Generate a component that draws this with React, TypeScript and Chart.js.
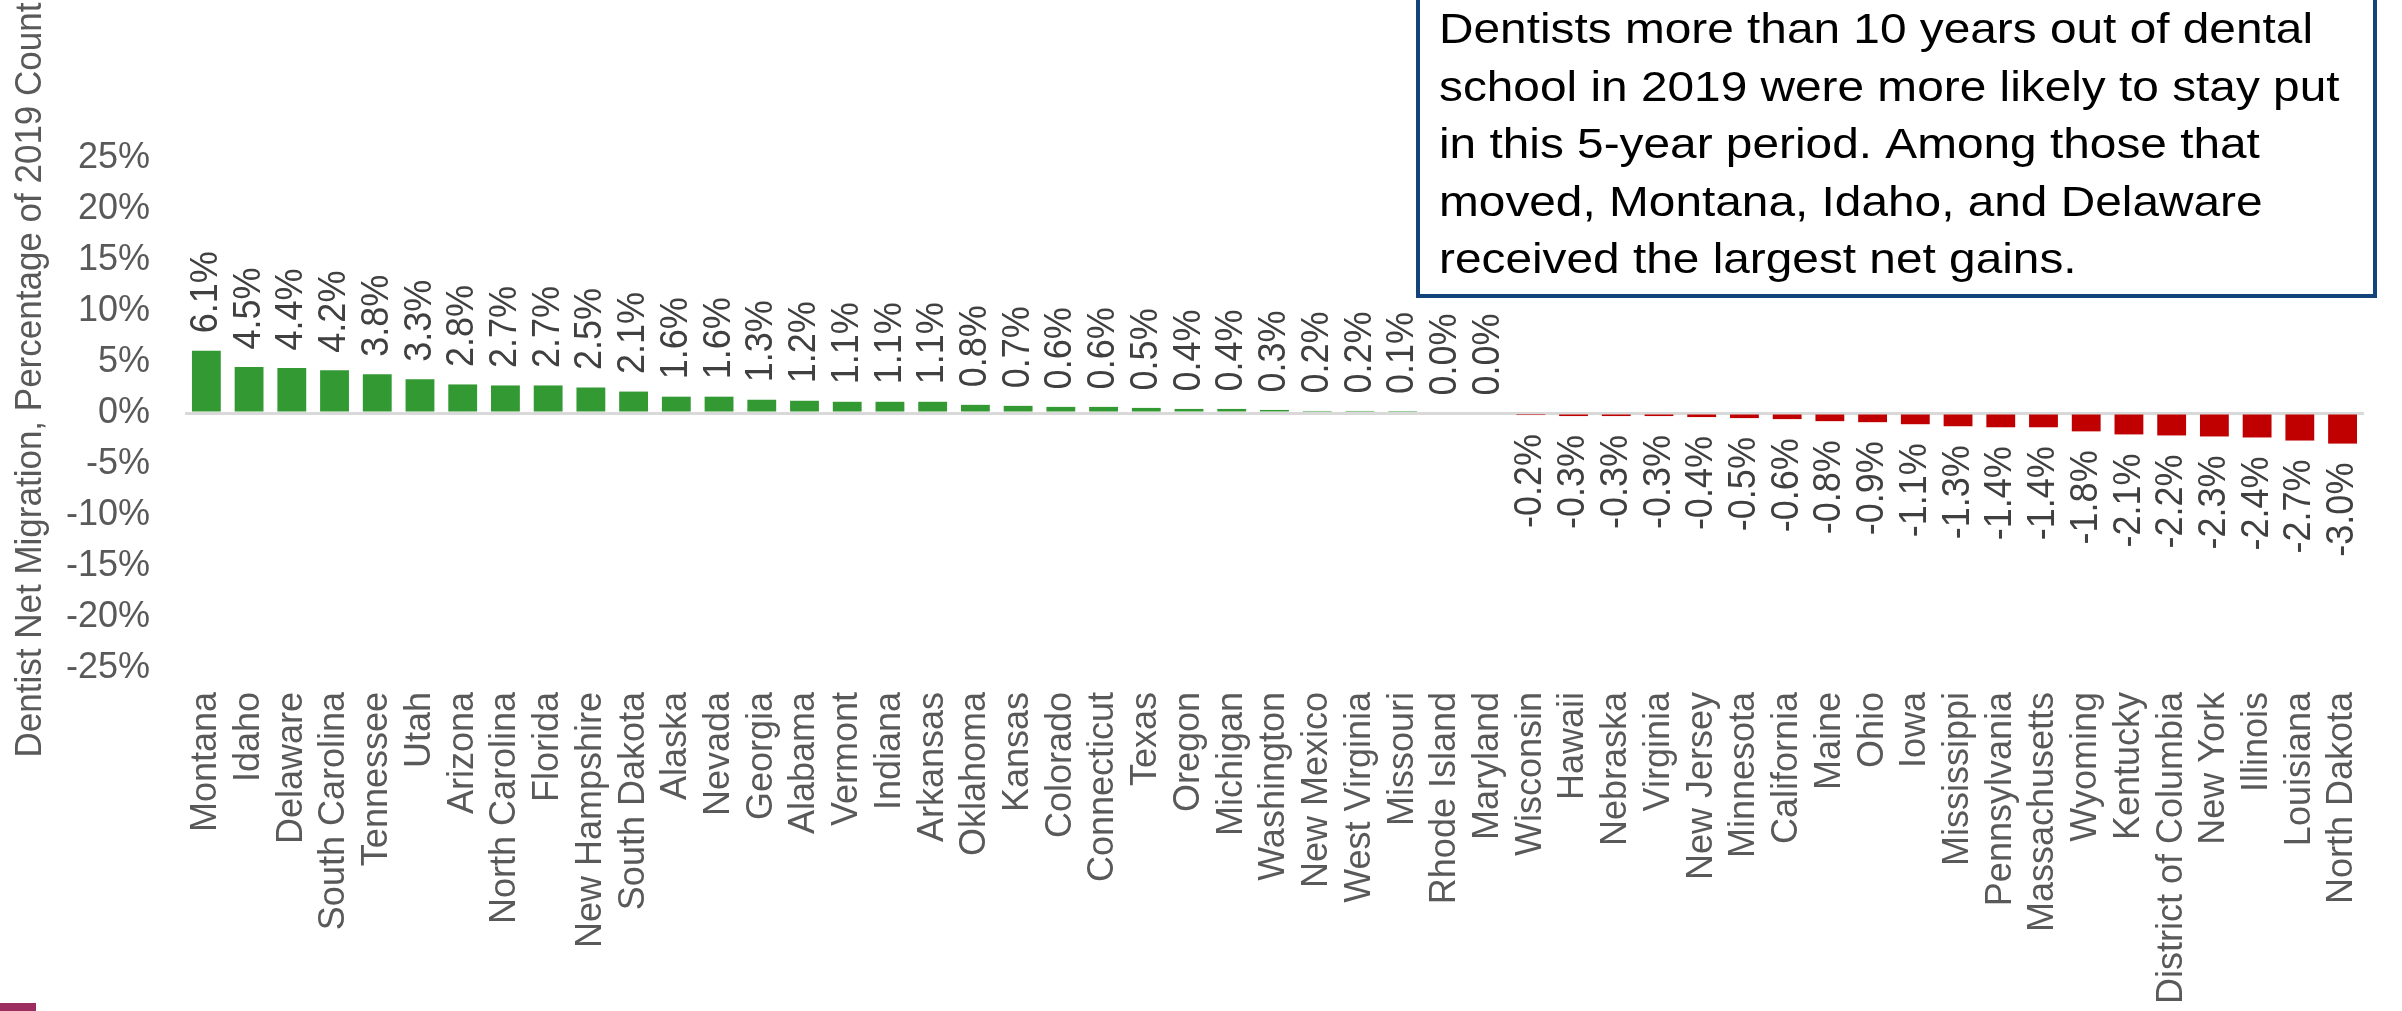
import React, { useEffect, useRef } from 'react';
import { Chart, registerables } from 'chart.js';

Chart.register(...registerables);

const states = [
  'Montana', 'Idaho', 'Delaware', 'South Carolina', 'Tennessee', 'Utah', 'Arizona',
  'North Carolina', 'Florida', 'New Hampshire', 'South Dakota', 'Alaska', 'Nevada',
  'Georgia', 'Alabama', 'Vermont', 'Indiana', 'Arkansas', 'Oklahoma', 'Kansas',
  'Colorado', 'Connecticut', 'Texas', 'Oregon', 'Michigan', 'Washington', 'New Mexico',
  'West Virginia', 'Missouri', 'Rhode Island', 'Maryland', 'Wisconsin', 'Hawaii',
  'Nebraska', 'Virginia', 'New Jersey', 'Minnesota', 'California', 'Maine', 'Ohio',
  'Iowa', 'Mississippi', 'Pennsylvania', 'Massachusetts', 'Wyoming', 'Kentucky',
  'District of Columbia', 'New York', 'Illinois', 'Louisiana', 'North Dakota',
];

const netMigration = [
  6.1, 4.5, 4.4, 4.2, 3.8, 3.3, 2.8, 2.7, 2.7, 2.5, 2.1, 1.6, 1.6, 1.3, 1.2, 1.1, 1.1, 1.1,
  0.8, 0.7, 0.6, 0.6, 0.5, 0.4, 0.4, 0.3, 0.2, 0.2, 0.1, 0.0, 0.0,
  -0.2, -0.3, -0.3, -0.3, -0.4, -0.5, -0.6, -0.8, -0.9, -1.1, -1.3, -1.4, -1.4, -1.8,
  -2.1, -2.2, -2.3, -2.4, -2.7, -3.0,
];

const yMin = -25;
const yMax = 25;
const yStep = 5;

const yAxisTitle = 'Dentist Net Migration, Percentage of 2019 Count';

const noteLines = [
  'Dentists more than 10 years out of dental',
  'school in 2019 were more likely to stay put',
  'in this 5-year period. Among those that',
  'moved, Montana, Idaho, and Delaware',
  'received the largest net gains.',
];

const FONT = "'Liberation Sans', Arial, Helvetica, sans-serif";
const GREEN = '#339933';
const RED = '#c00000';
const AXIS_TEXT = '#595959';
const LABEL_TEXT = '#404040';

const overlayPlugin = {
  id: 'overlayPlugin',
  afterDatasetsDraw(chart: any) {
    const ctx = chart.ctx;
    const meta = chart.getDatasetMeta(0);
    ctx.save();
    ctx.font = `36px ${FONT}`;
    ctx.fillStyle = LABEL_TEXT;
    ctx.textBaseline = 'middle';
    meta.data.forEach((bar: any, i: number) => {
      const v = netMigration[i];
      const txt = v.toFixed(1) + '%';
      ctx.save();
      if (v >= 0) {
        ctx.translate(bar.x, Math.min(bar.y, bar.base) - 17.5);
        ctx.rotate(-Math.PI / 2);
        ctx.scale(1, 1.07);
        ctx.textAlign = 'left';
      } else {
        ctx.translate(bar.x, Math.max(bar.y, bar.base) + 19);
        ctx.rotate(-Math.PI / 2);
        ctx.scale(1, 1.07);
        ctx.textAlign = 'right';
      }
      ctx.fillText(txt, 0, 0);
      ctx.restore();
    });
    ctx.restore();
  },
  afterDraw(chart: any) {
    const ctx = chart.ctx;
    ctx.save();
    // y-axis title
    ctx.font = `35px ${FONT}`;
    ctx.fillStyle = AXIS_TEXT;
    ctx.textAlign = 'center';
    ctx.textBaseline = 'alphabetic';
    ctx.translate(41, 380);
    ctx.rotate(-Math.PI / 2);
    ctx.scale(1, 1.05);
    ctx.fillText(yAxisTitle, 0, 0);
    ctx.restore();

    // annotation box
    ctx.save();
    ctx.fillStyle = '#ffffff';
    ctx.fillRect(1418, -10, 957, 306);
    ctx.strokeStyle = '#13437b';
    ctx.lineWidth = 4;
    ctx.strokeRect(1418, -10, 957, 306);
    ctx.font = `42px ${FONT}`;
    ctx.fillStyle = '#000000';
    ctx.textAlign = 'left';
    ctx.textBaseline = 'alphabetic';
    const w0 = ctx.measureText(noteLines[0]).width;
    const sx = 874 / w0;
    noteLines.forEach((line, i) => {
      ctx.save();
      ctx.translate(1439, 43 + i * 57.5);
      ctx.scale(sx, 1);
      ctx.fillText(line, 0, 0);
      ctx.restore();
    });
    ctx.restore();

    // decorative strip bottom-left
    ctx.save();
    ctx.fillStyle = '#9b2d60';
    ctx.fillRect(0, 1003, 36, 8);
    ctx.restore();
  },
};

export default function App() {
  const canvasRef = useRef<HTMLCanvasElement | null>(null);

  useEffect(() => {
    if (!canvasRef.current) return;
    const chart = new Chart(canvasRef.current, {
      type: 'bar',
      data: {
        labels: states,
        datasets: [
          {
            data: netMigration,
            backgroundColor: netMigration.map((v) => (v >= 0 ? GREEN : RED)),
            borderWidth: 0,
            barPercentage: 0.675,
            categoryPercentage: 1,
          },
        ],
      },
      options: {
        animation: false,
        responsive: false,
        devicePixelRatio: 1,
        layout: { padding: { left: 0, right: 25, top: 158, bottom: 0 } },
        plugins: {
          legend: { display: false },
          tooltip: { enabled: false },
          title: { display: false },
        },
        scales: {
          x: {
            grid: { display: false },
            border: { display: false },
            ticks: {
              autoSkip: false,
              minRotation: 90,
              maxRotation: 90,
              padding: 16,
              color: AXIS_TEXT,
              font: { size: 36, family: FONT },
            },
            afterFit: (scale: any) => {
              scale.height = 343;
            },
          },
          y: {
            min: yMin,
            max: yMax,
            border: { display: false },
            grid: {
              drawTicks: false,
              color: (c: any) => (c.tick && c.tick.value === 0 ? '#d9d9d9' : 'rgba(0,0,0,0)'),
              lineWidth: 3,
            },
            ticks: {
              stepSize: yStep,
              padding: 35,
              color: AXIS_TEXT,
              font: { size: 36, family: FONT },
              callback: (v: any) => `${v}%`,
            },
            afterFit: (scale: any) => {
              scale.width = 185;
            },
          },
        },
      },
      plugins: [overlayPlugin],
    });
    return () => chart.destroy();
  }, []);

  return (
    <div style={{ position: 'fixed', left: 0, top: 0, width: 2402, height: 1011, background: '#ffffff' }}>
      <canvas ref={canvasRef} width={2402} height={1011} style={{ width: 2402, height: 1011, display: 'block' }} />
    </div>
  );
}
